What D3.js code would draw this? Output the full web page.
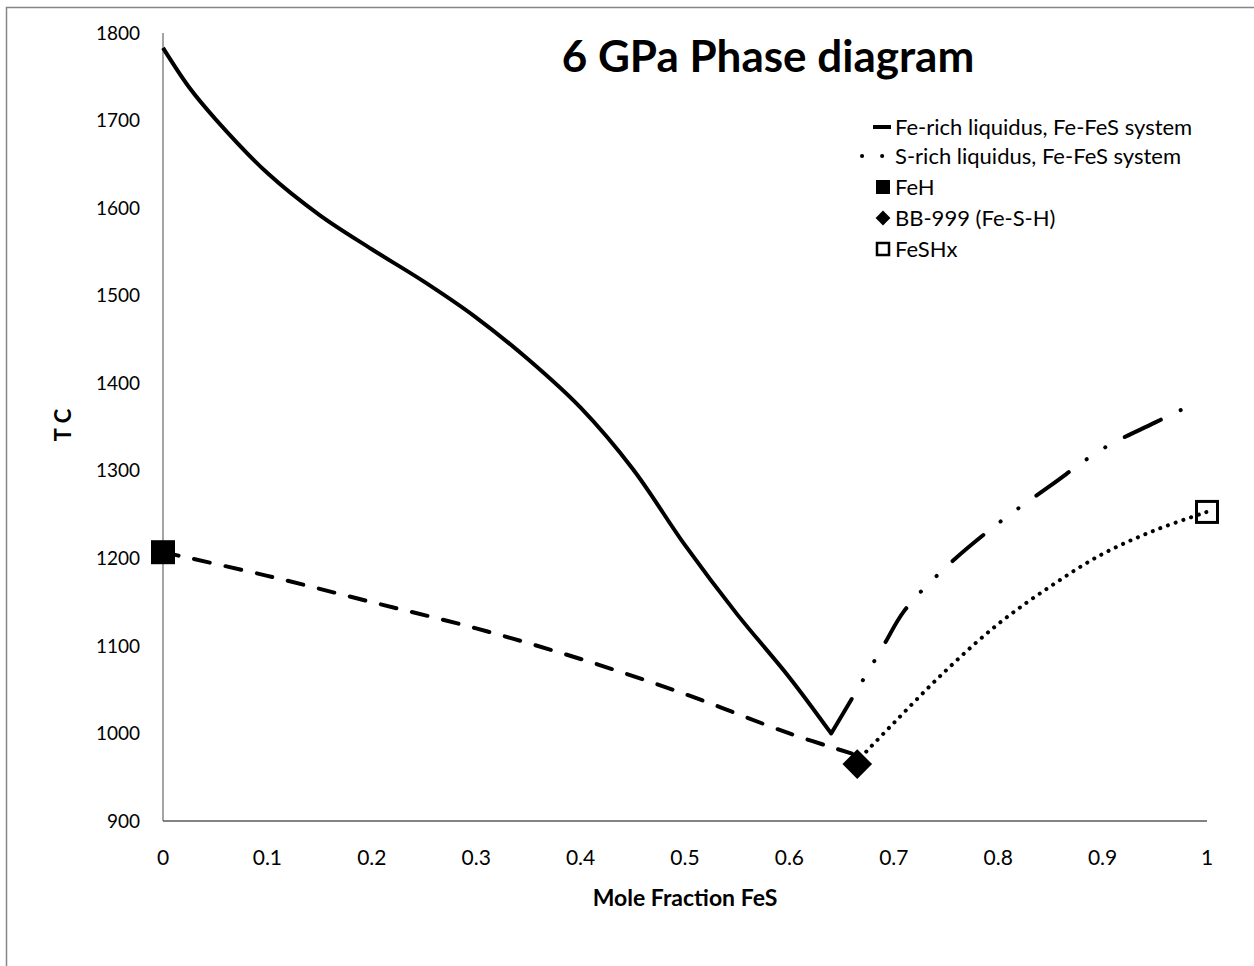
<!DOCTYPE html>
<html>
<head>
<meta charset="utf-8">
<script src="https://d3js.org/d3.v7.min.js"></script>
<style>
  body { margin: 0; background: #fff; }
  svg { display: block; font-family: Lato, "Open Sans", sans-serif; }
</style>
</head>
<body>
<svg id="chart" width="1254" height="966"></svg>
<script>
// ---- data ----
var xTicks = [0, 0.1, 0.2, 0.3, 0.4, 0.5, 0.6, 0.7, 0.8, 0.9, 1];
var yTicks = [900, 1000, 1100, 1200, 1300, 1400, 1500, 1600, 1700, 1800];

// Fe-rich liquidus (solid)
var feRichX = [0, 0.025, 0.05, 0.1, 0.15, 0.2, 0.25, 0.3, 0.35, 0.4, 0.45, 0.5, 0.55, 0.6, 0.64];
var feRichT = [1783, 1738, 1702, 1640, 1592, 1553, 1516, 1475, 1427, 1372, 1302, 1215, 1136, 1064, 1000];

// S-rich liquidus (long dash dot dot)
var sRichX = [0.64, 0.66, 0.69, 0.71, 0.75, 0.8, 0.85, 0.9, 0.95, 0.99];
var sRichT = [1000, 1040, 1100, 1140, 1190, 1240, 1283, 1325, 1355, 1378];

// FeH -> BB-999 (dashed)
var lowLeftX = [0, 0.1, 0.2, 0.3, 0.4, 0.5, 0.6, 0.66];
var lowLeftT = [1207, 1180, 1150, 1120, 1085, 1045, 1000, 977];

// BB-999 -> FeSHx (dotted)
var lowRightX = [0.663, 0.7, 0.75, 0.8, 0.85, 0.9, 0.95, 1];
var lowRightT = [966, 1012, 1072, 1125, 1168, 1205, 1232, 1253];

// point series
var feH = {x: 0, t: 1207};
var bb999 = {x: 0.665, t: 965};
var feSHx = {x: 1, t: 1253};

var legendLabels = ["Fe-rich liquidus, Fe-FeS system", "S-rich liquidus, Fe-FeS system", "FeH", "BB-999 (Fe-S-H)", "FeSHx"];

// ---- drawing ----
var svg = d3.select("#chart");

// outer frame (only left/top visible in the crop)
svg.append("rect")
  .attr("x", 6.5).attr("y", 7.5)
  .attr("width", 1270).attr("height", 990)
  .attr("fill", "none").attr("stroke", "#868686").attr("stroke-width", 1.5);

var x = d3.scaleLinear().domain([0, 1]).range([163, 1207]);
var y = d3.scaleLinear().domain([900, 1800]).range([821, 33]);

// y axis line
svg.append("line")
  .attr("x1", x(0)).attr("x2", x(0))
  .attr("y1", y(1800)).attr("y2", y(900))
  .attr("stroke", "#868686").attr("stroke-width", 1.5);

// x axis line
svg.append("line")
  .attr("x1", x(0)).attr("x2", x(1))
  .attr("y1", y(900)).attr("y2", y(900))
  .attr("stroke", "#595959").attr("stroke-width", 1.5);

// tick labels
svg.selectAll(".ylab").data(yTicks).enter().append("text")
  .attr("class", "ylab")
  .attr("x", 140).attr("y", function(d) { return y(d); })
  .attr("dy", "0.35em")
  .attr("text-anchor", "end")
  .style("font-size", "19px")
  .text(function(d) { return d; });

svg.selectAll(".xlab").data(xTicks).enter().append("text")
  .attr("class", "xlab")
  .attr("x", function(d) { return x(d); }).attr("y", 858)
  .attr("dy", "0.35em")
  .attr("text-anchor", "middle")
  .style("font-size", "21px")
  .text(function(d) { return d; });

// axis titles
svg.append("text")
  .attr("x", 685).attr("y", 898).attr("dy", "0.35em")
  .attr("text-anchor", "middle")
  .style("font-size", "23px").style("font-weight", "bold")
  .text("Mole Fraction FeS");

svg.append("text")
  .attr("transform", "translate(63,425) rotate(-90)")
  .attr("dy", "0.35em")
  .attr("text-anchor", "middle")
  .style("font-size", "22px").style("font-weight", "bold")
  .text("T C");

// title
svg.append("text")
  .attr("x", 768).attr("y", 57).attr("dy", "0.35em")
  .attr("text-anchor", "middle")
  .style("font-size", "44px").style("font-weight", "bold")
  .text("6 GPa Phase diagram");

var line = d3.line()
  .x(function(d) { return x(d[0]); })
  .y(function(d) { return y(d[1]); })
  .curve(d3.curveCatmullRom.alpha(0.5));

function pts(xs, ts) { return xs.map(function(v, i) { return [v, ts[i]]; }); }

var dashDotDot = "40 22 0.1 22 0.1 22";

svg.append("path").datum(pts(lowLeftX, lowLeftT))
  .attr("d", line).attr("fill", "none").attr("stroke", "#000")
  .attr("stroke-width", 4).attr("stroke-linecap", "round")
  .attr("stroke-dasharray", "16 16");

svg.append("path").datum(pts(lowRightX, lowRightT))
  .attr("d", line).attr("fill", "none").attr("stroke", "#000")
  .attr("stroke-width", 4).attr("stroke-linecap", "round")
  .attr("stroke-dasharray", "0.1 8");

svg.append("path").datum(pts(feRichX, feRichT))
  .attr("d", line).attr("fill", "none").attr("stroke", "#000")
  .attr("stroke-width", 4).attr("stroke-linejoin", "round");

svg.append("path").datum(pts(sRichX, sRichT))
  .attr("d", line).attr("fill", "none").attr("stroke", "#000")
  .attr("stroke-width", 4).attr("stroke-linecap", "round")
  .attr("stroke-dasharray", dashDotDot);

// markers
var m = 24;
svg.append("rect")
  .attr("x", x(feH.x) - m / 2).attr("y", y(feH.t) - m / 2)
  .attr("width", m).attr("height", m).attr("fill", "#000");

svg.append("path")
  .attr("d", d3.symbol().type(d3.symbolSquare).size(440)())
  .attr("transform", "translate(" + x(bb999.x) + "," + y(bb999.t) + ") rotate(45)")
  .attr("fill", "#000");

svg.append("rect")
  .attr("x", x(feSHx.x) - m / 2 + 1.5).attr("y", y(feSHx.t) - m / 2 + 1.5)
  .attr("width", m - 3).attr("height", m - 3)
  .attr("fill", "none").attr("stroke", "#000").attr("stroke-width", 3);

// legend
var legY = [127, 156, 187, 218, 249];
var legTextX = 895;
var lg = svg.append("g");

lg.append("line").attr("x1", 873).attr("x2", 891).attr("y1", legY[0]).attr("y2", legY[0])
  .attr("stroke", "#000").attr("stroke-width", 4);
lg.append("line").attr("x1", 862).attr("x2", 884).attr("y1", legY[1]).attr("y2", legY[1])
  .attr("stroke", "#000").attr("stroke-width", 4).attr("stroke-linecap", "round")
  .attr("stroke-dasharray", "0.1 20");
lg.append("rect").attr("x", 876).attr("y", legY[2] - 7).attr("width", 14).attr("height", 14).attr("fill", "#000");
lg.append("path")
  .attr("d", d3.symbol().type(d3.symbolSquare).size(110)())
  .attr("transform", "translate(883," + legY[3] + ") rotate(45)")
  .attr("fill", "#000");
lg.append("rect").attr("x", 877).attr("y", legY[4] - 6).attr("width", 12).attr("height", 12)
  .attr("fill", "none").attr("stroke", "#000").attr("stroke-width", 2.5);

lg.selectAll(".leg").data(legendLabels).enter().append("text")
  .attr("class", "leg")
  .attr("x", legTextX).attr("y", function(d, i) { return legY[i]; })
  .attr("dy", "0.35em")
  .style("font-size", "22px")
  .text(function(d) { return d; });
</script>
</body>
</html>
